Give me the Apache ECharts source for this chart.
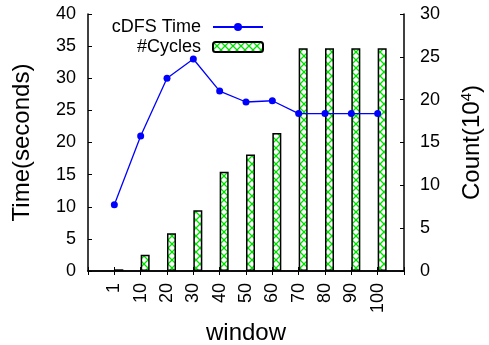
<!DOCTYPE html>
<html>
<head>
<meta charset="utf-8">
<script src="https://cdn.jsdelivr.net/npm/echarts@6/dist/echarts.min.js"></script>
<style>
html,body{margin:0;padding:0;background:#fff;}
#main{width:489px;height:345px;}
</style>
</head>
<body>
<div id="main"></div>
<script>
var windows = ['1', '10', '20', '30', '40', '50', '60', '70', '80', '90', '100'];
var cdfsTime = [10.3, 21.0, 30.0, 33.0, 28.0, 26.3, 26.5, 24.5, 24.5, 24.5, 24.5];
var cycles = [0.2, 1.9, 4.4, 7.1, 11.6, 13.6, 16.1, 26.0, 26.0, 26.0, 26.0];
var leftTicks = {min: 0, max: 40, interval: 5};
var rightTicks = {min: 0, max: 30, interval: 5};

var FONT = 'Liberation Sans, Arial, Helvetica, sans-serif';

// pad one empty slot each side so the first/last window sit one step in
var cats = [''].concat(windows).concat(['']);
var timeData = ['-'].concat(cdfsTime).concat(['-']);
var cycleData = ['-'].concat(cycles).concat(['-']);

/* crosshatch fill */
function hatch(){
	var c = document.createElement('canvas');
	c.width = 8; c.height = 8;
	var ctx = c.getContext('2d');
	ctx.fillStyle = '#fff';
	ctx.fillRect(0, 0, 8, 8);
	ctx.strokeStyle = '#00e000';
	ctx.lineWidth = 1.3;
	ctx.beginPath();
	ctx.moveTo(0, 0); ctx.lineTo(8, 8);
	ctx.moveTo(8, 0); ctx.lineTo(0, 8);
	ctx.stroke();
	return c;
}

var myChart = echarts.init(document.getElementById('main'));
var option = {
	animation: false,
	textStyle: {fontFamily: FONT, color: '#000'},
	grid: {left: 88, right: 85, top: 14, bottom: 74, outerBoundsMode: 'none', containLabel: false},
	legend: {
		data: ['cDFS Time', '#Cycles'],
		orient: 'vertical',
		align: 'right',
		right: 225,
		top: 18,
		padding: 0,
		itemGap: 2,
		itemWidth: 50,
		itemHeight: 10,
		textStyle: {fontSize: 18, color: '#000', fontFamily: FONT, padding: [0, 7, 0, 0]}
	},
	xAxis: [
		{
			type: 'category',
			data: cats,
			boundaryGap: false,
			name: 'window',
			nameLocation: 'middle',
			nameGap: 50,
			nameTextStyle: {fontSize: 24, color: '#000'},
			axisLine: {lineStyle: {color: '#000', width: 1.5}},
			axisTick: {inside: true, length: 4, lineStyle: {color: '#000'}},
			axisLabel: {rotate: 90, fontSize: 18, color: '#000', margin: 12, interval: 0},
			splitLine: {show: false}
		},
		{
			type: 'category',
			data: cats,
			boundaryGap: false,
			position: 'top',
			axisLine: {lineStyle: {color: '#000', width: 1.5}},
			axisTick: {inside: true, length: 4, interval: 0, lineStyle: {color: '#000'}},
			axisLabel: {show: false},
			splitLine: {show: false}
		}
	],
	yAxis: [
		{
			type: 'value',
			min: leftTicks.min, max: leftTicks.max, interval: leftTicks.interval,
			name: 'Time(seconds)',
			nameLocation: 'middle',
			nameRotate: 90,
			nameGap: 54,
			nameTextStyle: {fontSize: 24, color: '#000'},
			axisLine: {show: true, lineStyle: {color: '#000', width: 1.5}},
			axisTick: {show: true, inside: true, length: 4, lineStyle: {color: '#000'}},
			axisLabel: {fontSize: 18, color: '#000', margin: 12},
			splitLine: {show: false}
		},
		{
			type: 'value',
			position: 'right',
			min: rightTicks.min, max: rightTicks.max, interval: rightTicks.interval,
			name: 'Count(10{sup|4})',
			nameLocation: 'middle',
			nameRotate: 90,
			nameGap: 55,
			nameTextStyle: {
				fontSize: 24, color: '#000',
				rich: {sup: {fontSize: 15, verticalAlign: 'top', padding: [0, 0, 12, 0], color: '#000'}}
			},
			axisLine: {show: true, lineStyle: {color: '#000', width: 1.5}},
			axisTick: {show: true, inside: true, length: 4, lineStyle: {color: '#000'}},
			axisLabel: {fontSize: 18, color: '#000', margin: 16},
			splitLine: {show: false}
		}
	],
	series: [
		{
			/* empty spacer so the real bar starts at the tick */
			name: 'spacer',
			type: 'bar',
			yAxisIndex: 1,
			data: [],
			barWidth: 9,
			barGap: '0%',
			silent: true
		},
		{
			name: '#Cycles',
			type: 'bar',
			yAxisIndex: 1,
			data: cycleData,
			barWidth: 9,
			barGap: '0%',
			itemStyle: {
				color: {image: hatch(), repeat: 'repeat'},
				borderColor: '#000',
				borderWidth: 1.5
			}
		},
		{
			name: 'cDFS Time',
			type: 'line',
			yAxisIndex: 0,
			data: timeData,
			symbol: 'circle',
			symbolSize: 7,
			z: 5,
			lineStyle: {color: '#0000ff', width: 1.3},
			itemStyle: {color: '#0000ff'}
		}
	]
};
myChart.setOption(option);
</script>
</body>
</html>
